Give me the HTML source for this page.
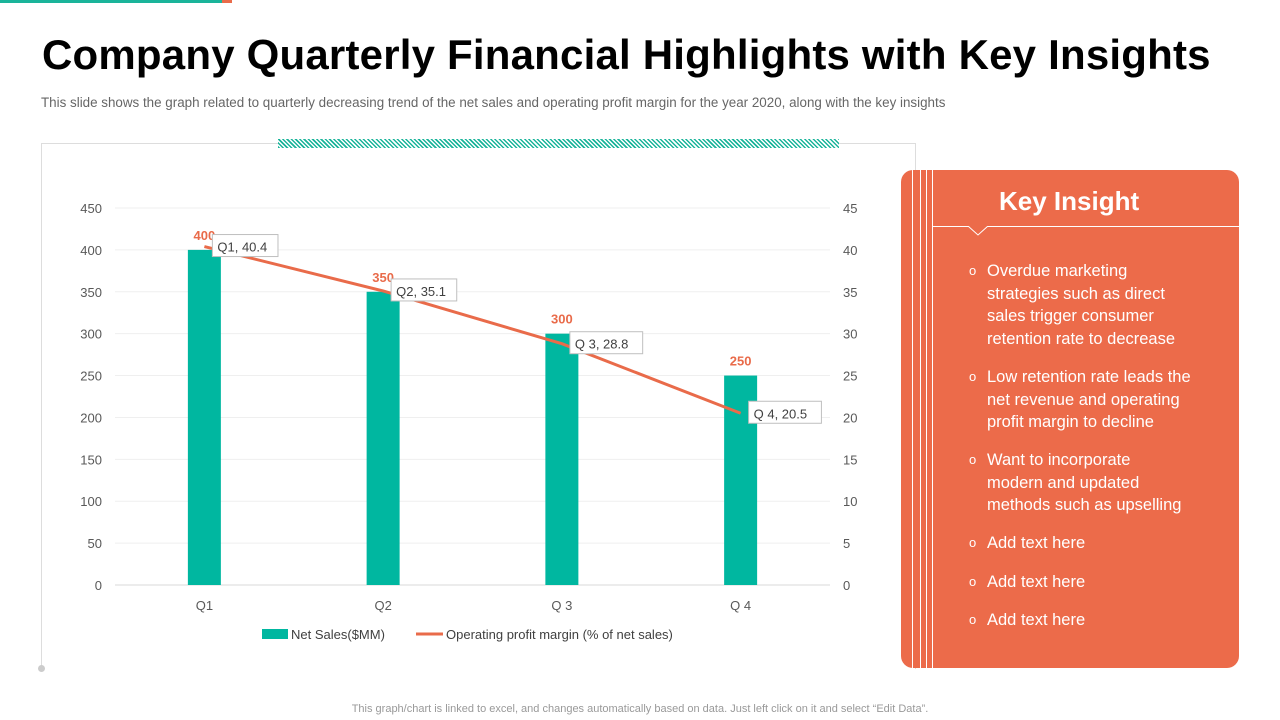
<!DOCTYPE html>
<html><head><meta charset="utf-8"><style>
body{margin:0;width:1280px;height:720px;background:#fff;position:relative;overflow:hidden;font-family:"Liberation Sans",sans-serif}
.abs{position:absolute}
.it{position:relative;padding-left:18px;white-space:nowrap}
.it span{position:absolute;left:0;font-size:13px}
</style></head><body>
<div class="abs" style="left:0;top:0;width:222px;height:3px;background:#1AB49A"></div>
<div class="abs" style="left:222px;top:0;width:10px;height:3px;background:#E96B4A"></div>
<div class="abs" style="left:42px;top:31px;font-size:42px;font-weight:bold;color:#000;white-space:nowrap;letter-spacing:0.2px">Company Quarterly Financial Highlights with Key Insights</div>
<div class="abs" style="left:41px;top:95px;font-size:13.4px;color:#666;white-space:nowrap">This slide shows the graph related to quarterly decreasing trend of the net sales and operating profit margin for the year 2020,  along with the key insights</div>
<div class="abs" style="left:41px;top:143px;width:873px;height:525px;border-top:1px solid #ddd;border-left:1px solid #ddd;border-right:1px solid #ddd"></div>
<div class="abs" style="left:278px;top:139px;width:561px;height:9px;background:repeating-linear-gradient(45deg,#1AB49A 0 1.5px,#fff 1.5px 3px)"></div>
<div class="abs" style="left:38px;top:665px;width:7px;height:7px;border-radius:50%;background:#ccc"></div>
<svg class="abs" style="left:0;top:0" width="900" height="700" id="chart"></svg>
<div class="abs" style="left:901px;top:170px;width:338px;height:498px;background:#EC6B4A;border-radius:12px;overflow:hidden">
  <div class="abs" style="left:11px;top:0;width:1px;height:498px;background:#fff"></div>
  <div class="abs" style="left:19px;top:0;width:1px;height:498px;background:#fff"></div>
  <div class="abs" style="left:25px;top:0;width:1px;height:498px;background:#fff"></div>
  <div class="abs" style="left:31px;top:0;width:1px;height:498px;background:#fff"></div>
  <div class="abs" style="left:31px;top:56px;width:307px;height:1px;background:#fff"></div>
  <svg class="abs" style="left:66px;top:56px" width="24" height="10"><path d="M1 0 L11 9 L21 0" fill="#EC6B4A" stroke="#fff" stroke-width="1"/></svg>
  <div class="abs" style="left:98px;top:16px;font-size:26px;font-weight:bold;color:#fff">Key Insight</div>
  <div class="abs" style="left:68px;top:90px;width:250px;font-size:16.5px;line-height:22.7px;color:#fff">
    <div class="it" style="margin-bottom:15px"><span>o</span>Overdue marketing<br>strategies such as direct<br>sales trigger consumer<br>retention rate to decrease</div>
    <div class="it" style="margin-bottom:15px"><span>o</span>Low retention rate leads the<br>net revenue and operating<br>profit margin to decline</div>
    <div class="it" style="margin-bottom:15px"><span>o</span>Want to incorporate<br>modern and updated<br>methods such as upselling</div>
    <div class="it" style="margin-bottom:16px"><span>o</span>Add text here</div>
    <div class="it" style="margin-bottom:16px"><span>o</span>Add text here</div>
    <div class="it"><span>o</span>Add text here</div>
  </div>
</div>
<div class="abs" style="left:0;width:1280px;top:703px;text-align:center;font-size:11px;color:#999">This graph/chart is linked to excel,  and changes automatically based on data. Just left click on it and select “Edit Data”.</div>
<script>
const categories=["Q1","Q2","Q 3","Q 4"];
const netSales=[400,350,300,250];
const margin=[40.4,35.1,28.8,20.5];
const pointLabels=["Q1, 40.4","Q2, 35.1","Q 3, 28.8","Q 4, 20.5"];
const leftTicks=[0,50,100,150,200,250,300,350,400,450];
const rightTicks=[0,5,10,15,20,25,30,35,40,45];
const svg=document.getElementById('chart');
const NS='http://www.w3.org/2000/svg';
const x0=115,x1=830,y0=585,y450=208;
const yL=v=>y0-(v/450)*(y0-y450);
const yR=v=>y0-(v/45)*(y0-y450);
const band=(x1-x0)/categories.length;
const xC=i=>x0+band*(i+0.5);
function mk(t,a,txt){const e=document.createElementNS(NS,t);for(const k in a)e.setAttribute(k,a[k]);if(txt!==undefined)e.textContent=txt;svg.appendChild(e);return e;}
leftTicks.forEach(v=>{
  const g=mk('line',{x1:x0,x2:x1,y1:yL(v),y2:yL(v),stroke:v===0?'#d9d9d9':'#efefef','stroke-width':1});
  
  
  const t=mk('text',{x:102,y:yL(v)+5,'text-anchor':'end','font-size':13,fill:'#595959'},v);
  
  
});
rightTicks.forEach(v=>{
  const t=mk('text',{x:843,y:yR(v)+5,'font-size':13,fill:'#595959'},v);
  
  
});
categories.forEach((c,i)=>{
  const b=mk('rect',{x:xC(i)-16.5,y:yL(netSales[i]),width:33,height:y0-yL(netSales[i]),fill:'#00B7A0'});
  
  
  const t=mk('text',{x:xC(i),y:610,'text-anchor':'middle','font-size':13,fill:'#595959'},c);
  
  
  const v=mk('text',{x:xC(i),y:yL(netSales[i])-10,'text-anchor':'middle','font-size':13,'font-weight':'bold',fill:'#E96B4A'},netSales[i]);
  
  
});
const pl=mk('polyline',{points:margin.map((m,i)=>xC(i)+','+yR(m)).join(' '),fill:'none',stroke:'#E96B4A','stroke-width':3});


margin.forEach((m,i)=>{
  const w=pointLabels[i].length*7.2+8;
  const r=mk('rect',{x:xC(i)+8,y:yR(m)-12,width:w,height:22,fill:'#fff',stroke:'#bfbfbf'});
  
  
  const t=mk('text',{x:xC(i)+13,y:yR(m)+5,'font-size':13,fill:'#404040'},pointLabels[i]);
  
  
});
const lg1=mk('rect',{x:262,y:629,width:26,height:10,fill:'#00B7A0'});


const lt1=mk('text',{x:291,y:639,'font-size':13,fill:'#404040'},'Net Sales($MM)');


const lg2=mk('line',{x1:416,x2:443,y1:634,y2:634,stroke:'#E96B4A','stroke-width':3});


const lt2=mk('text',{x:446,y:639,'font-size':13,fill:'#404040'},'Operating profit margin (% of net sales)');


</script>
</body></html>
